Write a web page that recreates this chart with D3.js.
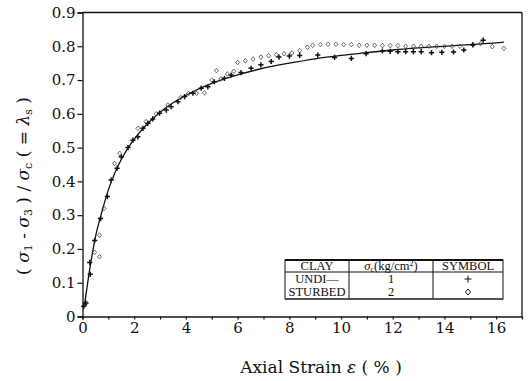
<!DOCTYPE html>
<html>
<head>
<meta charset="utf-8">
<script src="https://cdn.jsdelivr.net/npm/d3@7"></script>
<style>
  html, body { margin: 0; padding: 0; background: #fff; }
  svg { display: block; }
  text { font-family: "DejaVu Serif", "Liberation Serif", serif; fill: #111; }
</style>
</head>
<body>
<div id="chart"></div>
<script>
// ---------------- data ----------------
// fitted curve (solid line)
const curveStrain = [0.08, 0.3, 0.5, 0.75, 1.0, 1.25, 1.5, 2.0, 2.5, 3.0, 3.5, 4.0, 5.0, 6.0, 7.0, 8.0, 9.0, 10, 11, 12, 13, 14, 15, 16, 16.3];
const curveRatio  = [0.035, 0.15, 0.235, 0.31, 0.375, 0.425, 0.465, 0.525, 0.57, 0.605, 0.633, 0.655, 0.69, 0.715, 0.735, 0.75, 0.763, 0.773, 0.781, 0.789, 0.795, 0.8, 0.805, 0.81, 0.812];

// sigma_c = 1 kg/cm2  (+)
const plusStrain = [0.05, 0.12, 0.3, 0.28, 0.47, 0.7, 0.96, 1.11, 1.34, 1.5, 1.76, 1.95, 2.14, 2.34, 2.53, 2.72, 2.98, 3.24, 3.43, 3.69, 3.95, 4.27, 4.59, 4.85, 5.1, 5.49, 5.75, 6.13, 6.52, 6.9, 7.3, 7.6, 8.0, 8.4, 9.1, 9.75, 10.4, 10.97, 11.6, 11.9, 12.2, 12.5, 12.8, 13.1, 13.5, 13.9, 14.35, 14.75, 15.1, 15.5];
const plusRatio  = [0.03, 0.04, 0.125, 0.16, 0.225, 0.29, 0.355, 0.404, 0.439, 0.473, 0.5, 0.522, 0.532, 0.557, 0.572, 0.585, 0.602, 0.611, 0.621, 0.636, 0.651, 0.661, 0.676, 0.68, 0.695, 0.705, 0.715, 0.722, 0.735, 0.745, 0.755, 0.768, 0.771, 0.773, 0.774, 0.767, 0.764, 0.778, 0.786, 0.785, 0.784, 0.784, 0.784, 0.784, 0.781, 0.782, 0.783, 0.789, 0.804, 0.818];

// sigma_c = 2 kg/cm2  (diamond)
const diamStrain = [0.08, 0.15, 0.47, 0.66, 0.66, 0.83, 1.24, 1.44, 2.14, 2.46, 2.85, 3.3, 3.8, 4.1, 4.41, 4.72, 5.0, 5.18, 5.35, 5.6, 5.85, 6.0, 6.3, 6.6, 6.9, 7.2, 7.5, 7.8, 8.1, 8.4, 8.7, 8.9, 9.2, 9.5, 9.8, 10.1, 10.4, 10.7, 11.0, 11.3, 11.6, 11.9, 12.2, 12.5, 12.8, 13.1, 13.4, 13.7, 14.0, 14.3, 14.6, 15.1, 15.4, 15.85, 16.3];
const diamRatio  = [0.035, 0.04, 0.19, 0.241, 0.177, 0.32, 0.453, 0.483, 0.557, 0.577, 0.6, 0.626, 0.648, 0.66, 0.661, 0.662, 0.7, 0.728, 0.703, 0.718, 0.726, 0.752, 0.757, 0.762, 0.768, 0.772, 0.775, 0.778, 0.78, 0.787, 0.797, 0.803, 0.805, 0.806, 0.806, 0.805, 0.805, 0.803, 0.803, 0.803, 0.802, 0.802, 0.802, 0.8, 0.8, 0.8, 0.8, 0.8, 0.8, 0.8, 0.8, 0.805, 0.808, 0.799, 0.794];

const xTicks = [0, 2, 4, 6, 8, 10, 12, 14, 16];
const xMinorTicks = d3.range(0, 17, 1);
const yTicks = [0, 0.1, 0.2, 0.3, 0.4, 0.5, 0.6, 0.7, 0.8, 0.9];

const legendHeader = ["CLAY", "σc(kg/cm²)", "SYMBOL"];
const legendClay = ["UNDI—", "STURBED"];
const legendSigma = ["1", "2"];
const legendSymbol = ["plus", "diamond"];

// ---------------- chart ----------------
const W = 530, H = 381;
const svg = d3.select("#chart").append("svg").attr("width", W).attr("height", H);

const x = d3.scaleLinear().domain([0, 17]).range([82.5, 522]);
const y = d3.scaleLinear().domain([0, 0.9]).range([316.5, 12.5]);

// frame
const frame = svg.append("g").attr("stroke", "#111").attr("stroke-width", 1.3).attr("fill", "none");
frame.append("line").attr("x1", x(0)).attr("x2", x(17)).attr("y1", y(0.9)).attr("y2", y(0.9));
frame.append("line").attr("x1", x(17)).attr("x2", x(17)).attr("y1", y(0.9)).attr("y2", y(0));

// x axis
const xAxis = svg.append("g").attr("transform", `translate(0,${y(0)})`)
  .call(d3.axisBottom(x).tickValues(xMinorTicks).tickSize(3).tickPadding(3)
    .tickFormat(d => xTicks.includes(d) ? String(d) : ""));
xAxis.select(".domain").attr("stroke", "#111").attr("stroke-width", 1.3);
xAxis.selectAll(".tick line").attr("stroke", "#111").attr("stroke-width", 1.2);
xAxis.selectAll(".tick text").style("font-family", "DejaVu Serif").style("font-size", "15px").attr("fill", "#111");

// y axis
const yAxis = svg.append("g").attr("transform", `translate(${x(0)},0)`)
  .call(d3.axisLeft(y).tickValues(yTicks).tickSize(5).tickPadding(2)
    .tickFormat(d => d === 0 ? "0" : d3.format(".1f")(d)));
yAxis.select(".domain").attr("stroke", "#111").attr("stroke-width", 1.3);
yAxis.selectAll(".tick line").attr("stroke", "#111").attr("stroke-width", 1.2);
yAxis.selectAll(".tick text").style("font-family", "DejaVu Serif").style("font-size", "15px").attr("fill", "#111");

// fitted line
const curveData = curveStrain.map((s, i) => [s, curveRatio[i]]);
svg.append("path")
  .datum(curveData)
  .attr("fill", "none")
  .attr("stroke", "#111")
  .attr("stroke-width", 1.3)
  .attr("d", d3.line().x(d => x(d[0])).y(d => y(d[1])).curve(d3.curveMonotoneX));

// markers
const plusPath = "M-2.6,0H2.6M0,-2.6V2.6";
const diamPath = "M0,-2.3L2,0L0,2.3L-2,0Z";

const diamData = diamStrain.map((s, i) => [s, diamRatio[i]]);
svg.append("g").selectAll("path").data(diamData).join("path")
  .attr("transform", d => `translate(${x(d[0])},${y(d[1])})`)
  .attr("d", diamPath)
  .attr("fill", "none")
  .attr("stroke", "#444")
  .attr("stroke-width", 0.8);

const plusData = plusStrain.map((s, i) => [s, plusRatio[i]]);
svg.append("g").selectAll("path").data(plusData).join("path")
  .attr("transform", d => `translate(${x(d[0])},${y(d[1])})`)
  .attr("d", plusPath)
  .attr("fill", "none")
  .attr("stroke", "#111")
  .attr("stroke-width", 1.5);

// axis titles
const xt = svg.append("text")
  .attr("x", 321).attr("y", 373)
  .attr("text-anchor", "middle")
  .style("font-size", "17px");
xt.append("tspan").text("Axial Strain ");
xt.append("tspan").attr("font-style", "italic").text("ε");
xt.append("tspan").text(" ( % )");

const yt = svg.append("text")
  .attr("transform", "translate(29,186) rotate(-90)")
  .attr("text-anchor", "middle")
  .style("font-size", "17px");
yt.append("tspan").text("( ");
yt.append("tspan").attr("font-style", "italic").text("σ");
yt.append("tspan").attr("baseline-shift", "-25%").attr("font-size", "11px").text("1");
yt.append("tspan").text(" - ");
yt.append("tspan").attr("font-style", "italic").text("σ");
yt.append("tspan").attr("baseline-shift", "-25%").attr("font-size", "11px").text("3");
yt.append("tspan").text(" ) / ");
yt.append("tspan").attr("font-style", "italic").text("σ");
yt.append("tspan").attr("baseline-shift", "-25%").attr("font-size", "11px").text("c");
yt.append("tspan").text(" ( = ");
yt.append("tspan").attr("font-style", "italic").text("λ");
yt.append("tspan").attr("baseline-shift", "-25%").attr("font-size", "11px").text("s");
yt.append("tspan").text(" )");

// legend table
const L = { x0: 285, x1: 349, x2: 433, x3: 503, y0: 260, y1: 272, y2: 299 };
const lg = svg.append("g");
lg.append("rect").attr("x", L.x0).attr("y", L.y0).attr("width", L.x3 - L.x0).attr("height", L.y2 - L.y0)
  .attr("fill", "#fff").attr("stroke", "#111").attr("stroke-width", 1);
lg.append("line").attr("x1", L.x0).attr("x2", L.x3).attr("y1", L.y0).attr("y2", L.y0).attr("stroke", "#111").attr("stroke-width", 2);
lg.append("line").attr("x1", L.x0).attr("x2", L.x3).attr("y1", L.y1).attr("y2", L.y1).attr("stroke", "#111").attr("stroke-width", 1);
lg.append("line").attr("x1", L.x0).attr("x2", L.x3).attr("y1", L.y2).attr("y2", L.y2).attr("stroke", "#555").attr("stroke-width", 2);
[L.x1, L.x2].forEach(cx => lg.append("line").attr("x1", cx).attr("x2", cx).attr("y1", L.y0).attr("y2", L.y2).attr("stroke", "#111").attr("stroke-width", 1));

const colCenters = [(L.x0 + L.x1) / 2, (L.x1 + L.x2) / 2, (L.x2 + L.x3) / 2];
const tstyle = sel => sel.attr("text-anchor", "middle").style("font-family", "Liberation Serif").style("font-size", "12.5px");

// header
tstyle(lg.append("text").attr("x", colCenters[0]).attr("y", 270).text(legendHeader[0]));
const h2 = tstyle(lg.append("text").attr("x", colCenters[1]).attr("y", 270));
h2.append("tspan").attr("font-style", "italic").text("σ");
h2.append("tspan").attr("baseline-shift", "-20%").attr("font-size", "8px").text("c");
h2.append("tspan").text("(kg/cm");
h2.append("tspan").attr("baseline-shift", "super").attr("font-size", "8px").text("2");
h2.append("tspan").text(")");
tstyle(lg.append("text").attr("x", colCenters[2]).attr("y", 270).text(legendHeader[2]));

const rowY = [283, 296];
legendClay.forEach((t, i) => tstyle(lg.append("text").attr("x", colCenters[0]).attr("y", rowY[i]).text(t)));
legendSigma.forEach((t, i) => tstyle(lg.append("text").attr("x", colCenters[1]).attr("y", rowY[i]).text(t)));
legendSymbol.forEach((s, i) => {
  lg.append("path")
    .attr("transform", `translate(${colCenters[2]},${rowY[i] - 4})`)
    .attr("d", s === "plus" ? "M-3.5,0H3.5M0,-3.5V3.5" : "M0,-3L2.6,0L0,3L-2.6,0Z")
    .attr("fill", "none").attr("stroke", "#111").attr("stroke-width", 1);
});
</script>
</body>
</html>
